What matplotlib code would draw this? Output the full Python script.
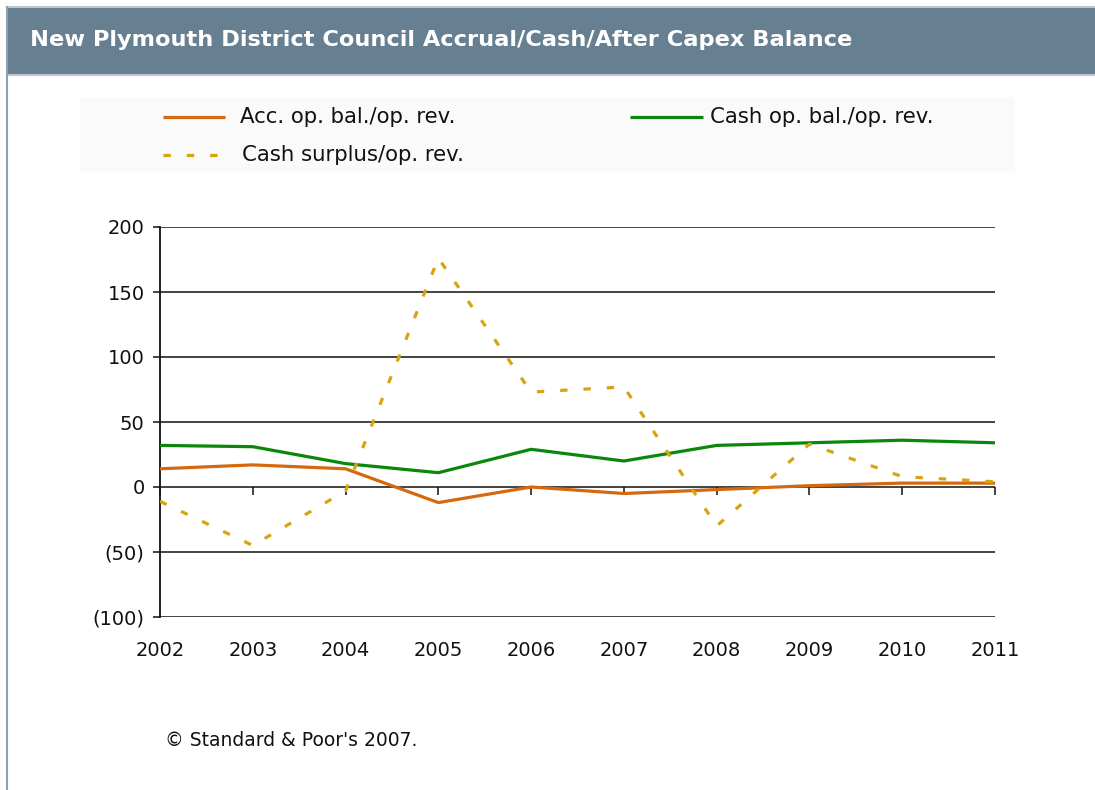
import matplotlib
matplotlib.use("Agg")
import matplotlib.pyplot as plt
from matplotlib.lines import Line2D
from matplotlib.patches import Rectangle
from matplotlib.ticker import FuncFormatter

years = [2002, 2003, 2004, 2005, 2006, 2007, 2008, 2009, 2010, 2011]
acc_op_bal = [14, 17, 14, -12, 0, -5, -2, 1, 3, 3]
cash_op_bal = [32, 31, 18, 11, 29, 20, 32, 34, 36, 34]
cash_surplus = [-11, -45, -3, 176, 73, 77, -30, 33, 8, 4]
series_names = ["Acc. op. bal./op. rev.", "Cash op. bal./op. rev.", "Cash surplus/op. rev."]
y_ticks = [-100, -50, 0, 50, 100, 150, 200]
title = "New Plymouth District Council Accrual/Cash/After Capex Balance"
footer = "\u00a9 Standard & Poor's 2007."

ORANGE = "#d4690f"
GREEN = "#0b870b"
GOLD = "#d8a40e"
FONT = "DejaVu Sans"

W, H = 1095, 790
fig = plt.figure(figsize=(W / 100, H / 100), dpi=100)
fig.patch.set_facecolor("white")


def fx(px):
    return px / W


def fy(py):
    return 1 - py / H


# title bar
fig.patches.append(Rectangle((fx(7), fy(75)), fx(W - 7), 68 / H, transform=fig.transFigure,
                             facecolor="#667f91", edgecolor="none", zorder=0))
fig.lines.append(Line2D([fx(7), 1], [fy(7), fy(7)], transform=fig.transFigure, color="#bcc7cf", lw=1.5))
fig.lines.append(Line2D([fx(7), 1], [fy(75), fy(75)], transform=fig.transFigure, color="#bcc7cf", lw=1.5))
fig.lines.append(Line2D([fx(7), fx(7)], [fy(7), 0], transform=fig.transFigure, color="#8fa2b0", lw=1.5))
fig.text(fx(30), fy(40), title, color="white", fontsize=16.2, fontweight="bold",
         family=FONT, ha="left", va="center")

# legend background
fig.patches.append(Rectangle((fx(80), fy(172)), fx(935), 75 / H, transform=fig.transFigure,
                             facecolor="#fafafa", edgecolor="none", zorder=0))

dash = (2.3, 5.0)
leg = [
    (163, 225, 117, ORANGE, None, series_names[0], 240),
    (630, 703, 117, GREEN, None, series_names[1], 710),
    (163, 225, 155, GOLD, dash, series_names[2], 242),
]
for x0, x1, yy, c, d, name, tx in leg:
    ln = Line2D([fx(x0), fx(x1)], [fy(yy), fy(yy)], transform=fig.transFigure, color=c, lw=2.3,
                solid_capstyle="butt", dash_capstyle="butt")
    if d:
        ln.set_dashes(d)
    fig.lines.append(ln)
    fig.text(fx(tx), fy(yy), name, fontsize=15.3, family=FONT, ha="left", va="center", color="#111111")

fig.text(fx(165), fy(740), footer, fontsize=13.5, family=FONT, ha="left", va="center", color="#111111")

# axes
ax = fig.add_axes([fx(160), fy(617), fx(835), 390 / H])
ax.set_facecolor("none")
ax.plot(years, acc_op_bal, color=ORANGE, lw=2.3, solid_joinstyle="round", zorder=3)
ax.plot(years, cash_op_bal, color=GREEN, lw=2.3, solid_joinstyle="round", zorder=3)
ax.plot(years, cash_surplus, color=GOLD, lw=2.3, dashes=dash, zorder=4)

ax.set_xlim(years[0], years[-1])
ax.set_ylim(-100, 200)
ax.set_yticks(y_ticks)
ax.yaxis.set_major_formatter(FuncFormatter(lambda v, p: f"({abs(int(v))})" if v < 0 else f"{int(v)}"))
ax.set_xticks(years)
ax.set_xticklabels([str(y) for y in years])
for t in y_ticks:
    ax.axhline(t, color="#111111", lw=1.1, zorder=1)
for s in ["top", "right", "bottom"]:
    ax.spines[s].set_visible(False)
ax.spines["left"].set_color("#111111")
ax.spines["left"].set_linewidth(1.3)
ax.tick_params(axis="y", direction="out", length=5, width=1.1, pad=6, labelsize=14, colors="#111111")
ax.tick_params(axis="x", length=0, pad=17, labelsize=14, colors="#111111")
for lab in ax.get_xticklabels() + ax.get_yticklabels():
    lab.set_family(FONT)

sec = ax.secondary_xaxis(1 / 3)
sec.set_xticks(years)
sec.set_xticklabels([])
sec.tick_params(axis="x", direction="out", length=6, width=1.1, colors="#111111")
sec.spines["bottom"].set_visible(False)
sec.spines["top"].set_visible(False)

fig.savefig("out.png", dpi=100, facecolor="white")
